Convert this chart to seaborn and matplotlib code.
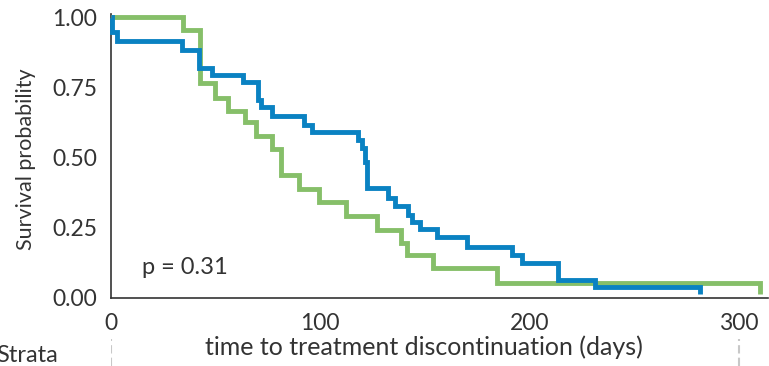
import matplotlib
matplotlib.use("Agg")
import matplotlib.pyplot as plt
import seaborn as sns
import pandas as pd

# ---- data ----
blue_time = [0, 0.5, 3, 33.9, 42.1, 48.3, 63.1, 70.3, 71.5, 77, 92.3, 96,
             118, 120, 121.4, 122.4, 132.4, 135.8, 142, 143.9, 147.7, 155.8,
             170.2, 191.7, 196.5, 213.7, 231.4, 281.5]
blue_surv = [1.0, 0.945, 0.915, 0.884, 0.82, 0.795, 0.767, 0.706, 0.678, 0.649,
             0.617, 0.59, 0.562, 0.534, 0.484, 0.391, 0.356, 0.327, 0.295, 0.270,
             0.246, 0.217, 0.181, 0.153, 0.125, 0.064, 0.039, 0.014]
green_time = [0, 34.4, 42.5, 49.8, 55.9, 64, 69.3, 77, 81.3, 89.9, 99.5, 112.3,
              127.2, 138.6, 141.5, 153.9, 184.5, 310.2]
green_surv = [1.0, 0.955, 0.765, 0.713, 0.667, 0.625, 0.578, 0.53, 0.436, 0.388,
              0.342, 0.293, 0.243, 0.197, 0.152, 0.105, 0.055, 0.014]
x_ticks = [0, 100, 200, 300]
y_ticks = [0.0, 0.25, 0.5, 0.75, 1.0]
y_ticklabels = ["0.00", "0.25", "0.50", "0.75", "1.00"]
p_text = "p = 0.31"

sns.set_style("white")
plt.rcParams["font.family"] = ["Lato", "DejaVu Sans"]

df = pd.concat([
    pd.DataFrame({"time": blue_time, "surv": blue_surv, "strata": "A"}),
    pd.DataFrame({"time": green_time, "surv": green_surv, "strata": "B"}),
])

W, H = 769, 366
fig = plt.figure(figsize=(W / 100, H / 100), dpi=100)
x0, x1 = 111, 768
y0, ytop = 298, 14
ax = fig.add_axes([x0 / W, (H - y0) / H, (x1 - x0) / W, (y0 - ytop) / H])

palette = {"A": "#0A82C2", "B": "#86BF69"}
sns.lineplot(data=df, x="time", y="surv", hue="strata", palette=palette,
             drawstyle="steps-post", linewidth=3.5, sort=False, legend=False,
             ax=ax, hue_order=["B", "A"])
for ln in ax.lines:
    ln.set_clip_on(False)
    ln.set_solid_capstyle("butt")
    ln.set_solid_joinstyle("miter")

ax.set_xlim(0, (x1 - x0) / 2.092)
ax.set_ylim(0, (y0 - ytop) / 281.0)
ax.set_xticks(x_ticks)
ax.set_xticklabels([str(t) for t in x_ticks])
ax.set_yticks(y_ticks)
ax.set_yticklabels(y_ticklabels)
for s in ["top", "right"]:
    ax.spines[s].set_visible(False)
for s in ["left", "bottom"]:
    ax.spines[s].set_color("#333333")
    ax.spines[s].set_linewidth(1.2)
    ax.spines[s].set_zorder(0.5)
ax.tick_params(axis="both", length=5, width=1.2, color="#333333",
               labelcolor="#333333", labelsize=16.5, direction="out")
ax.tick_params(axis="x", pad=6)
ax.tick_params(axis="y", pad=5)

aw = x1 - x0
ah = y0 - ytop
ax.set_xlabel("time to treatment discontinuation (days)", fontsize=18,
              color="#333333", va="center")
ax.xaxis.set_label_coords((424 - x0) / aw, -(347 - y0) / ah)
ax.set_ylabel("Survival probability", fontsize=15.5, color="#333333", va="center")
ax.yaxis.set_label_coords(-(x0 - 26) / aw, (y0 - 159) / ah)
ax.text(15, 0.107, p_text, fontsize=17, color="#333333", ha="left", va="center")

# lower panel (risk-table remnants)
ax2 = fig.add_axes([x0 / W, 0, (x1 - x0) / W, (H - 339) / H])
ax2.set_xlim(ax.get_xlim())
ax2.set_ylim(0, 1)
for t in [0, 300]:
    ax2.axvline(t, color="#C8C8C8", linewidth=1.5, linestyle=(0, (4, 2)))
ax2.axis("off")
fig.text(-4 / W, (H - 355) / H, "Strata", fontsize=17, color="#333333",
         ha="left", va="center")

fig.savefig("out.png", dpi=100)
